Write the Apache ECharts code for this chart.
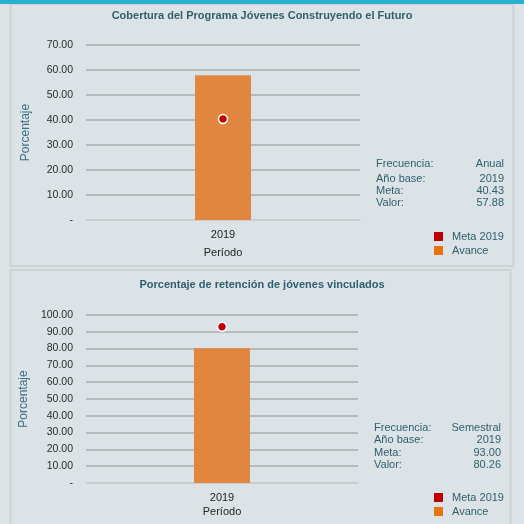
<!DOCTYPE html>
<html>
<head>
<meta charset="utf-8">
<script src="https://cdn.jsdelivr.net/npm/echarts@6/dist/echarts.min.js"></script>
<style>html,body{margin:0;padding:0;background:#dce3e6;}#c{width:524px;height:524px;}</style>
</head>
<body>
<div id="c"></div>
<script>
const categories = ['2019'];
const titles = ['Cobertura del Programa Jóvenes Construyendo el Futuro', 'Porcentaje de retención de jóvenes vinculados'];
const avance1 = [57.88];
const meta1 = [40.43];
const avance2 = [80.26];
const meta2 = [93.00];
const yMax = [70, 100];
const stats1 = [['Frecuencia:', 'Anual'], ['Año base:', '2019'], ['Meta:', '40.43'], ['Valor:', '57.88']];
const stats2 = [['Frecuencia:', 'Semestral'], ['Año base:', '2019'], ['Meta:', '93.00'], ['Valor:', '80.26']];
const legendNames = ['Meta 2019', 'Avance'];

const FONT = 'Liberation Sans';
const TEAL = '#2f5f6d';
const BAR = '#e0863f';
const RED = '#c00000';

const chart = echarts.init(document.getElementById('c'), null, {renderer: 'canvas'});

function yAxis(gi, max) {
  return {
    gridIndex: gi, type: 'value', min: 0, max: max, interval: 10,
    name: 'Porcentaje', nameLocation: 'middle', nameRotate: 90, nameGap: 54,
    nameTextStyle: {color: '#3a6f80', fontFamily: FONT, fontSize: 12},
    axisLine: {show: false}, axisTick: {show: false},
    axisLabel: {color: '#2a2a2a', fontFamily: FONT, fontSize: 10.5, margin: 13,
      formatter: v => v === 0 ? '-' : v.toFixed(2)},
    splitLine: {lineStyle: {color: '#a9acae', width: 1.5}}
  };
}
function xAxis(gi, gap) {
  return {
    gridIndex: gi, type: 'category', data: categories,
    name: 'Período', nameLocation: 'middle', nameGap: gap,
    nameTextStyle: {color: '#222', fontFamily: FONT, fontSize: 11},
    axisLine: {lineStyle: {color: '#cfd3d5', width: 1.5}}, axisTick: {show: false},
    axisLabel: {color: '#222', fontFamily: FONT, fontSize: 11, margin: 9}
  };
}
function statTexts(stats, x1, x2, ys) {
  const out = [];
  stats.forEach((s, i) => {
    out.push({type: 'text', left: x1, top: ys[i], style: {text: s[0], fill: TEAL, font: '11px ' + FONT}});
    out.push({type: 'text', right: 524 - x2, top: ys[i], style: {text: s[1], fill: TEAL, font: '11px ' + FONT, textAlign: 'right'}});
  });
  return out;
}
function legend(top) {
  return {
    orient: 'vertical', left: 434, top: top, height: 40, itemWidth: 9, itemHeight: 9, itemGap: 3,
    icon: 'rect', selectedMode: false, padding: 0,
    textStyle: {color: TEAL, fontFamily: FONT, fontSize: 11, padding: [0, 0, 0, 4]},
    data: [
      {name: legendNames[0], itemStyle: {color: RED, borderWidth: 0, opacity: 1}},
      {name: legendNames[1], itemStyle: {color: '#e8720c', borderWidth: 0, opacity: 1}}
    ]
  };
}

const option = {
  backgroundColor: '#dce3e6',
  animation: false,
  title: [
    {text: titles[0], left: 'center', top: 5, textStyle: {color: TEAL, fontFamily: FONT, fontSize: 11, fontWeight: 'bold'}},
    {text: titles[1], left: 'center', top: 274, textStyle: {color: TEAL, fontFamily: FONT, fontSize: 11, fontWeight: 'bold'}}
  ],
  legend: [legend(231), legend(492)],
  grid: [
    {left: 86, right: 164, top: 45, bottom: 304},
    {left: 86, right: 166, top: 315, bottom: 41}
  ],
  xAxis: [xAxis(0, 27), xAxis(1, 23)],
  yAxis: [yAxis(0, yMax[0]), yAxis(1, yMax[1])],
  series: [
    {name: legendNames[1], type: 'bar', xAxisIndex: 0, yAxisIndex: 0, data: avance1, barWidth: 56, itemStyle: {color: BAR}, z: 2},
    {name: legendNames[0], type: 'scatter', xAxisIndex: 0, yAxisIndex: 0, data: meta1, symbolSize: 9, itemStyle: {color: RED, opacity: 1, borderColor: '#fff', borderWidth: 1.5}, z: 3},
    {name: legendNames[1], type: 'bar', xAxisIndex: 1, yAxisIndex: 1, data: avance2, barWidth: 56, itemStyle: {color: BAR}, z: 2},
    {name: legendNames[0], type: 'scatter', xAxisIndex: 1, yAxisIndex: 1, data: meta2, symbolSize: 9, itemStyle: {color: RED, opacity: 1, borderColor: '#fff', borderWidth: 1.5}, z: 3}
  ],
  graphic: [
    {type: 'rect', shape: {x: 0, y: 0, width: 524, height: 4}, style: {fill: '#2aafcf'}, z: -1},
    {type: 'rect', shape: {x: 10.5, y: 4, width: 503, height: 262}, style: {fill: '#dce3e6', stroke: '#cdd2d4', lineWidth: 2}, z: -2},
    {type: 'rect', shape: {x: 10.5, y: 270, width: 500, height: 260}, style: {fill: '#dce3e6', stroke: '#cdd2d4', lineWidth: 2}, z: -2},
    ...statTexts(stats1, 376, 504, [158, 173, 185, 197]),
    ...statTexts(stats2, 374, 501, [422, 434, 447, 459])
  ]
};
chart.setOption(option);
</script>
</body>
</html>
